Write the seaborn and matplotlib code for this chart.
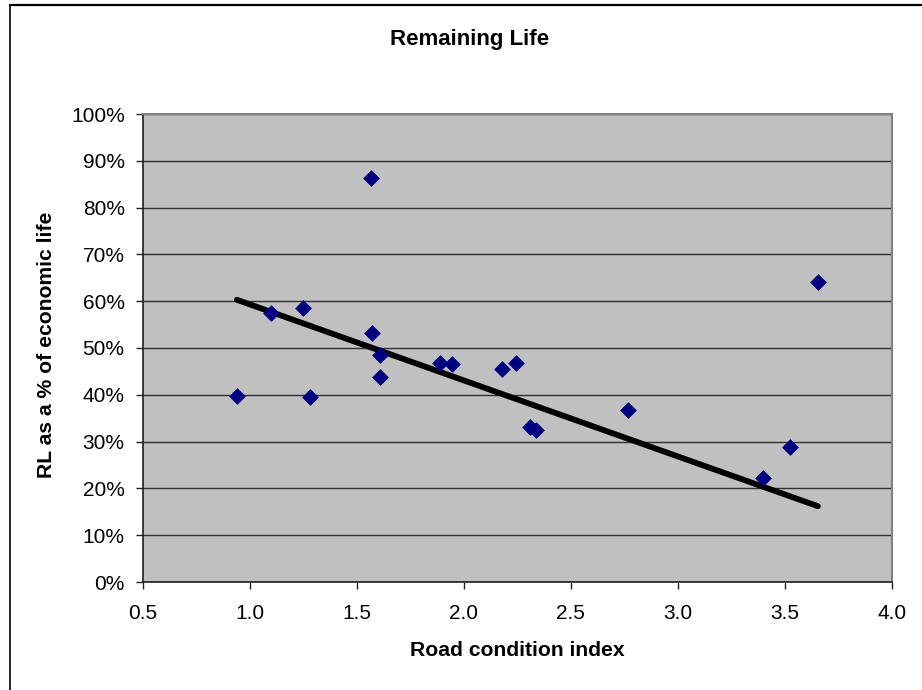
import matplotlib
matplotlib.use("Agg")
import matplotlib.pyplot as plt
import seaborn as sns
import pandas as pd
from matplotlib.ticker import FuncFormatter, MultipleLocator
from matplotlib.lines import Line2D

# Data
road_condition_index = [0.94, 1.10, 1.25, 1.28, 1.567, 1.57, 1.61, 1.61, 1.89,
                        1.945, 2.18, 2.245, 2.31, 2.34, 2.77, 3.40, 3.525, 3.655]
rl_percent = [0.397, 0.575, 0.585, 0.395, 0.863, 0.532, 0.485, 0.438, 0.468,
              0.466, 0.455, 0.468, 0.331, 0.325, 0.368, 0.222, 0.288, 0.641]
trend_x = [0.94, 3.655]
trend_y = [0.603, 0.162]

title = "Remaining Life"
x_label = "Road condition index"
y_label = "RL as a % of economic life"

df = pd.DataFrame({"x": road_condition_index, "y": rl_percent})

sns.set_theme(style="white")
plt.rcParams["font.family"] = ["Liberation Sans", "DejaVu Sans"]
plt.rcParams["text.color"] = "black"

fig = plt.figure(figsize=(9.22, 6.90), dpi=100)
ax = fig.add_axes([142.7 / 922, 1 - 582 / 690, (891.7 - 142.7) / 922, (582 - 114) / 690])
ax.set_facecolor("#C0C0C0")

ax.set_xlim(0.5, 4.0)
ax.set_ylim(0, 1.0)
ax.xaxis.set_major_locator(MultipleLocator(0.5))
ax.yaxis.set_major_locator(MultipleLocator(0.1))
ax.xaxis.set_major_formatter(FuncFormatter(lambda v, p: f"{v:.1f}"))
ax.yaxis.set_major_formatter(FuncFormatter(lambda v, p: f"{v*100:.0f}%"))

ax.grid(axis="y", color="#303030", linewidth=1.0)
ax.grid(axis="x", visible=False)
ax.set_axisbelow(True)

sns.lineplot(x=trend_x, y=trend_y, ax=ax, color="black", linewidth=4.2,
             solid_capstyle="round", zorder=2)
sns.scatterplot(data=df, x="x", y="y", ax=ax, marker="D", s=64, color="#000080",
                edgecolor="#000080", linewidth=0.5, zorder=3)

for side in ["left", "bottom"]:
    ax.spines[side].set_color("#202020")
    ax.spines[side].set_linewidth(1.2)
for side in ["top", "right"]:
    ax.spines[side].set_color("#808080")
    ax.spines[side].set_linewidth(1.5)

ax.tick_params(axis="both", which="major", direction="out", length=5, width=1,
               color="#202020", labelsize=15, labelcolor="black", pad=8,
               bottom=True, left=True)
ax.tick_params(axis="x", pad=11)

ax.set_xlabel("")
ax.set_ylabel("")
fig.text(470 / 922, 1 - 40 / 690, title, ha="center", va="center",
         fontsize=16, fontweight="bold")
fig.text(517 / 922, 1 - 651 / 690, x_label, ha="center", va="center",
         fontsize=15.2, fontweight="bold")
fig.text(47 / 922, 1 - 345 / 690, y_label, ha="center", va="center",
         fontsize=15.2, fontweight="bold", rotation=90)

# Chart-area border (only top and left edges visible in the cropped reference)
fig.add_artist(Line2D([10 / 922, 1.0], [1 - 4.5 / 690, 1 - 4.5 / 690],
                      transform=fig.transFigure, color="black", linewidth=1.6))
fig.add_artist(Line2D([10 / 922, 10 / 922], [0.0, 1 - 4.5 / 690],
                      transform=fig.transFigure, color="black", linewidth=1.2))

fig.savefig("out.png", dpi=100)
